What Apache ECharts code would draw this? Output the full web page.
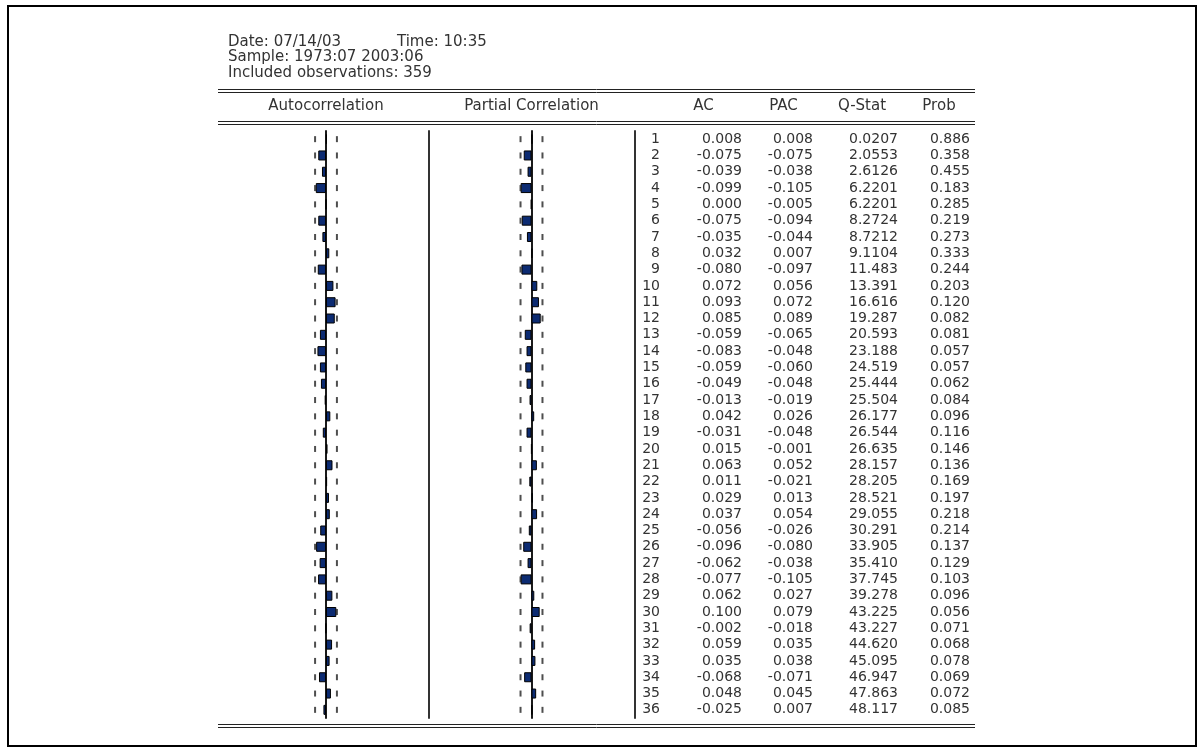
<!DOCTYPE html>
<html>
<head>
<meta charset="utf-8">
<script src="https://cdn.jsdelivr.net/npm/echarts@6/dist/echarts.min.js"></script>
<style>
  html, body { margin: 0; padding: 0; background: #fff; }
  #chart { width: 1204px; height: 755px; }
</style>
</head>
<body>
<div id="chart"></div>
<script>
// Correlogram of the series: lag, AC, PAC, Ljung-Box Q-statistic and its p-value
const lags = [1, 2, 3, 4, 5, 6, 7, 8, 9, 10, 11, 12, 13, 14, 15, 16, 17, 18,
              19, 20, 21, 22, 23, 24, 25, 26, 27, 28, 29, 30, 31, 32, 33, 34, 35, 36];
const ac = [0.008, -0.075, -0.039, -0.099, 0.000, -0.075, -0.035, 0.032, -0.080, 0.072,
            0.093, 0.085, -0.059, -0.083, -0.059, -0.049, -0.013, 0.042, -0.031, 0.015,
            0.063, 0.011, 0.029, 0.037, -0.056, -0.096, -0.062, -0.077, 0.062, 0.100,
            -0.002, 0.059, 0.035, -0.068, 0.048, -0.025];
const pac = [0.008, -0.075, -0.038, -0.105, -0.005, -0.094, -0.044, 0.007, -0.097, 0.056,
             0.072, 0.089, -0.065, -0.048, -0.060, -0.048, -0.019, 0.026, -0.048, -0.001,
             0.052, -0.021, 0.013, 0.054, -0.026, -0.080, -0.038, -0.105, 0.027, 0.079,
             -0.018, 0.035, 0.038, -0.071, 0.045, 0.007];
const qStat = [0.0207, 2.0553, 2.6126, 6.2201, 6.2201, 8.2724, 8.7212, 9.1104, 11.483, 13.391,
               16.616, 19.287, 20.593, 23.188, 24.519, 25.444, 25.504, 26.177, 26.544, 26.635,
               28.157, 28.205, 28.521, 29.055, 30.291, 33.905, 35.410, 37.745, 39.278, 43.225,
               43.227, 44.620, 45.095, 46.947, 47.863, 48.117];
const prob = [0.886, 0.358, 0.455, 0.183, 0.285, 0.219, 0.273, 0.333, 0.244, 0.203,
              0.120, 0.082, 0.081, 0.057, 0.057, 0.062, 0.084, 0.096, 0.116, 0.146,
              0.136, 0.169, 0.197, 0.218, 0.214, 0.137, 0.129, 0.103, 0.096, 0.056,
              0.071, 0.068, 0.078, 0.069, 0.072, 0.085];
// approximate two-standard-error band for 359 observations
const band = 0.106;

const headerDate = 'Date: 07/14/03';
const headerTime = 'Time: 10:35';
const headerSample = 'Sample: 1973:07 2003:06';
const headerObs = 'Included observations: 359';
const panelTitles = ['Autocorrelation', 'Partial Correlation'];
const columnHeads = ['AC', 'PAC', 'Q-Stat', 'Prob'];

const FONT = 'DejaVu Sans';
const TEXT = '#333';
const FS = 15;       // title and column headings
const FS_ROW = 14;   // table rows
const BAR = '#0c2b72';

const fmt3 = v => v.toFixed(3);
const fmtQ = v => (v < 10 ? v.toFixed(4) : v.toFixed(3));

const gridTop = 131, gridH = 587;

function tok(width, align, size) {
  return { width, align, fontFamily: FONT, fontSize: size, color: TEXT };
}

function rowLabel(value, i) {
  return '{lag|' + lags[i] + '}{ac|' + fmt3(ac[i]) + '}{pac|' + fmt3(pac[i]) +
         '}{q|' + fmtQ(qStat[i]) + '}{p|' + prob[i].toFixed(3) + '}';
}

function hidden(extra) {
  return Object.assign({
    axisLine: { show: false }, axisTick: { show: false },
    axisLabel: { show: false }, splitLine: { show: false }
  }, extra);
}

const nameStyle = { fontFamily: FONT, fontSize: FS, color: TEXT, verticalAlign: 'middle' };

function bandPoints(sign) {
  return lags.map((_, i) => [sign * band, i]);
}

const chart = echarts.init(document.getElementById('chart'), null, { renderer: 'canvas' });

chart.setOption({
  backgroundColor: '#fff',
  animation: false,
  title: {
    left: 228, top: 34, padding: 0,
    text: '{d|' + headerDate + '}{t|' + headerTime + '}\n' + headerSample + '\n' + headerObs,
    textStyle: {
      fontFamily: FONT, fontSize: FS, fontWeight: 'normal', color: TEXT, lineHeight: 15.5,
      rich: {
        d: { width: 169, fontFamily: FONT, fontSize: FS, color: TEXT, lineHeight: 15.5 },
        t: { fontFamily: FONT, fontSize: FS, color: TEXT, lineHeight: 15.5 }
      }
    }
  },
  grid: [
    { left: 223, top: gridTop, width: 206, height: gridH },
    { left: 428, top: gridTop, width: 207, height: gridH },
    { left: 636, top: gridTop, width: 340, height: gridH }
  ],
  xAxis: [
    hidden({ gridIndex: 0, type: 'value', min: -1, max: 1, position: 'top',
             name: panelTitles[0], nameLocation: 'middle', nameGap: 25, nameTextStyle: nameStyle }),
    hidden({ gridIndex: 1, type: 'value', min: -1, max: 1, position: 'top',
             name: panelTitles[1], nameLocation: 'middle', nameGap: 25, nameTextStyle: nameStyle }),
    hidden({ gridIndex: 2, type: 'value', min: 0, max: 1, position: 'top',
             name: '{pad| }{ac|' + columnHeads[0] + '}{pac|' + columnHeads[1] + '}{q|' +
                   columnHeads[2] + '}{p|' + columnHeads[3] + '}',
             nameLocation: 'middle', nameGap: 25,
             nameTextStyle: Object.assign({}, nameStyle, {
               rich: { pad: tok(26, 'center', FS), ac: tok(83, 'center', FS), pac: tok(77, 'center', FS),
                       q: tok(80, 'center', FS), p: tok(74, 'center', FS) }
             }) })
  ],
  yAxis: [
    // zero lines and panel separators
    hidden({ gridIndex: 0, type: 'category', data: lags, inverse: true,
             axisLine: { show: true, onZero: true, lineStyle: { color: '#1a1a1a', width: 2 } } }),
    hidden({ gridIndex: 0, type: 'category', data: lags, inverse: true, position: 'right',
             axisLine: { show: true, onZero: false, lineStyle: { color: '#333', width: 2 } } }),
    hidden({ gridIndex: 1, type: 'category', data: lags, inverse: true,
             axisLine: { show: true, onZero: true, lineStyle: { color: '#1a1a1a', width: 2 } } }),
    hidden({ gridIndex: 1, type: 'category', data: lags, inverse: true, position: 'right',
             axisLine: { show: true, onZero: false, lineStyle: { color: '#333', width: 2 } } }),
    // statistics table rows
    hidden({ gridIndex: 2, type: 'category', data: lags, inverse: true, position: 'left',
             axisLine: { show: false, onZero: false },
             axisLabel: {
               show: true, inside: true, interval: 0, margin: 0, align: 'left',
               fontFamily: FONT, fontSize: FS_ROW, color: TEXT,
               formatter: rowLabel,
               rich: { lag: tok(24, 'right', FS_ROW), ac: tok(82, 'right', FS_ROW),
                       pac: tok(71, 'right', FS_ROW), q: tok(85, 'right', FS_ROW),
                       p: tok(72, 'right', FS_ROW) }
             } })
  ],
  series: [
    { type: 'bar', xAxisIndex: 0, yAxisIndex: 0, data: ac, barWidth: 10,
      itemStyle: { color: BAR, borderColor: '#000', borderWidth: 1 }, silent: true },
    { type: 'bar', xAxisIndex: 1, yAxisIndex: 2, data: pac, barWidth: 10,
      itemStyle: { color: BAR, borderColor: '#000', borderWidth: 1 }, silent: true },
    { type: 'scatter', xAxisIndex: 0, yAxisIndex: 0, data: bandPoints(-1).concat(bandPoints(1)),
      symbol: 'rect', symbolSize: [2, 6], itemStyle: { color: '#222' }, silent: true },
    { type: 'scatter', xAxisIndex: 1, yAxisIndex: 2, data: bandPoints(-1).concat(bandPoints(1)),
      symbol: 'rect', symbolSize: [2, 6], itemStyle: { color: '#222' }, silent: true }
  ],
  graphic: [
    // outer frame
    { type: 'rect', shape: { x: 8, y: 6, width: 1188, height: 740 },
      style: { fill: null, stroke: '#000', lineWidth: 2 }, silent: true },
    // table rules
    { type: 'line', shape: { x1: 218, y1: 89.5, x2: 975, y2: 89.5 }, style: { stroke: '#222', lineWidth: 1 } },
    { type: 'line', shape: { x1: 218, y1: 92.5, x2: 975, y2: 92.5 }, style: { stroke: '#222', lineWidth: 1 } },
    { type: 'line', shape: { x1: 218, y1: 121.5, x2: 975, y2: 121.5 }, style: { stroke: '#222', lineWidth: 1 } },
    { type: 'line', shape: { x1: 218, y1: 124.5, x2: 975, y2: 124.5 }, style: { stroke: '#222', lineWidth: 1 } },
    { type: 'line', shape: { x1: 218, y1: 724.5, x2: 975, y2: 724.5 }, style: { stroke: '#222', lineWidth: 1 } },
    { type: 'line', shape: { x1: 218, y1: 727.5, x2: 975, y2: 727.5 }, style: { stroke: '#222', lineWidth: 1 } }
  ]
});
</script>
</body>
</html>
